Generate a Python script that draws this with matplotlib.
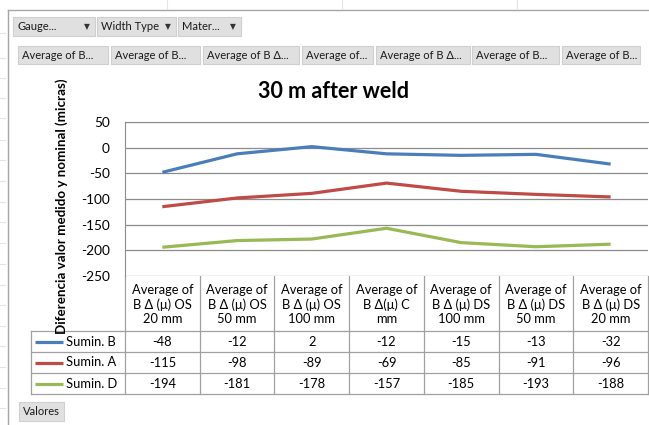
import matplotlib
matplotlib.use("Agg")
import matplotlib.pyplot as plt
from matplotlib.patches import Rectangle

plt.rcParams['font.family'] = ['Lato', 'DejaVu Sans']

# data
categories = ["Average of\nB Δ (μ) OS\n20 mm", "Average of\nB Δ (μ) OS\n50 mm",
              "Average of\nB Δ (μ) OS\n100 mm", "Average of\nB Δ(μ) C\nmm",
              "Average of\nB Δ (μ) DS\n100 mm", "Average of\nB Δ (μ) DS\n50 mm",
              "Average of\nB Δ (μ) DS\n20 mm"]
series_names = ["Sumin. B", "Sumin. A", "Sumin. D"]
sumin_b = [-48, -12, 2, -12, -15, -13, -32]
sumin_a = [-115, -98, -89, -69, -85, -91, -96]
sumin_d = [-194, -181, -178, -157, -185, -193, -188]
colors = ["#4A7EBB", "#BE4B48", "#98B954"]
yticks = [50, 0, -50, -100, -150, -200, -250]
filter_buttons = ["Gauge...", "Width Type", "Mater..."]
field_buttons = ["Average of B...", "Average of B...", "Average of B Δ...", "Average of...",
                 "Average of B Δ...", "Average of B...", "Average of B..."]

W, H = 649, 425
fig = plt.figure(figsize=(W / 100, H / 100), dpi=100)

# overlay in pixel coordinates for the pivot decorations and data table
deco = fig.add_axes([0, 0, 1, 1])
deco.set_xlim(0, W)
deco.set_ylim(H, 0)
deco.axis('off')

# plot area
px_left, px_right, px_top, px_bot = 125, 648, 122, 276
ax = fig.add_axes([px_left / W, 1 - px_bot / H, (px_right - px_left) / W, (px_bot - px_top) / H])
x = list(range(len(categories)))
for vals, c in zip([sumin_b, sumin_a, sumin_d], colors):
    ax.plot(x, vals, color=c, lw=2.3, solid_capstyle='butt', zorder=3)
ax.set_xlim(-0.5, len(categories) - 0.5)
ax.set_ylim(-250, 50)
ax.set_yticks(yticks)
ax.set_yticklabels([str(v) for v in yticks], fontsize=9.8)
ax.set_xticks([])
ax.tick_params(axis='y', length=0, pad=11)
ax.grid(axis='y', color='#8C8C8C', lw=0.9)
for s in ['right', 'bottom']:
    ax.spines[s].set_visible(False)
ax.spines['left'].set_color('#8C8C8C')
ax.spines['top'].set_color('#8C8C8C')
ax.set_ylabel("Diferencia valor medido y nominal (micras)", fontsize=9.6, fontweight='bold')
ax.yaxis.set_label_coords(-0.109, 0.45)

fig.text(334 / W, 1 - 92 / H, "30 m after weld", ha='center', va='center', fontsize=15.5, fontweight='bold')

# outer frame
deco.plot([8, 8], [10, H], color='#A6A6A6', lw=1)
deco.plot([8, W], [10, 10], color='#A6A6A6', lw=1)
for xx in [167, 342, 517]:
    deco.plot([xx, xx], [0, 9], color='#E4E4E4', lw=0.8)
for yy in [33, 58, 78, 98, 118, 140, 160, 181, 202, 222, 243, 264, 285, 305, 326, 346, 367, 388, 408]:
    deco.plot([0, 5], [yy, yy], color='#E4E4E4', lw=0.8)


def button(x0, x1, y0, y1, label, arrow=False):
    deco.add_patch(Rectangle((x0, y0), x1 - x0, y1 - y0, facecolor='#E0E0E0', edgecolor='#CFCFCF', lw=0.8))
    deco.text(x0 + 4, (y0 + y1) / 2, label, ha='left', va='center', fontsize=8, color='#1A1A1A')
    if arrow:
        deco.text(x1 - 5, (y0 + y1) / 2, "▼", ha='right', va='center', fontsize=5.5, color='#333333',
                  family='DejaVu Sans')


fb_edges = [(13, 95), (97, 176), (178, 241)]
for (x0, x1), lab in zip(fb_edges, filter_buttons):
    button(x0, x1, 17, 36, lab, arrow=True)
fld_edges = [(18, 108), (111, 200), (203, 299), (302, 373), (376, 470), (472, 559), (562, 640)]
for (x0, x1), lab in zip(fld_edges, field_buttons):
    button(x0, x1, 46, 64, lab)
button(19, 64, 402, 421, "Valores")

# data table
colw = (px_right - px_left) / len(categories)
leg_left = 31
row_tops = [331, 352, 373, 394]
gc = '#A0A0A0'
for i in range(len(categories) + 1):
    xx = px_left + i * colw
    deco.plot([xx, xx], [px_bot, row_tops[-1]], color=gc, lw=0.9)
deco.plot([leg_left, leg_left], [row_tops[0], row_tops[-1]], color=gc, lw=0.9)
for yy in row_tops:
    deco.plot([leg_left, px_right], [yy, yy], color=gc, lw=0.9)
for i, cat in enumerate(categories):
    deco.text(px_left + (i + 0.5) * colw, (px_bot + row_tops[0]) / 2 + 1, cat, ha='center', va='center',
              fontsize=9.3, linespacing=1.25)
for r, (name, vals, c) in enumerate(zip(series_names, [sumin_b, sumin_a, sumin_d], colors)):
    yc = (row_tops[r] + row_tops[r + 1]) / 2
    deco.plot([35, 63], [yc, yc], color=c, lw=2.3, solid_capstyle='butt')
    deco.text(66, yc, name, ha='left', va='center', fontsize=9.3)
    for i, v in enumerate(vals):
        deco.text(px_left + (i + 0.5) * colw, yc + 0.5, str(v), ha='center', va='center', fontsize=9.3)

fig.savefig("out.png", dpi=100)
